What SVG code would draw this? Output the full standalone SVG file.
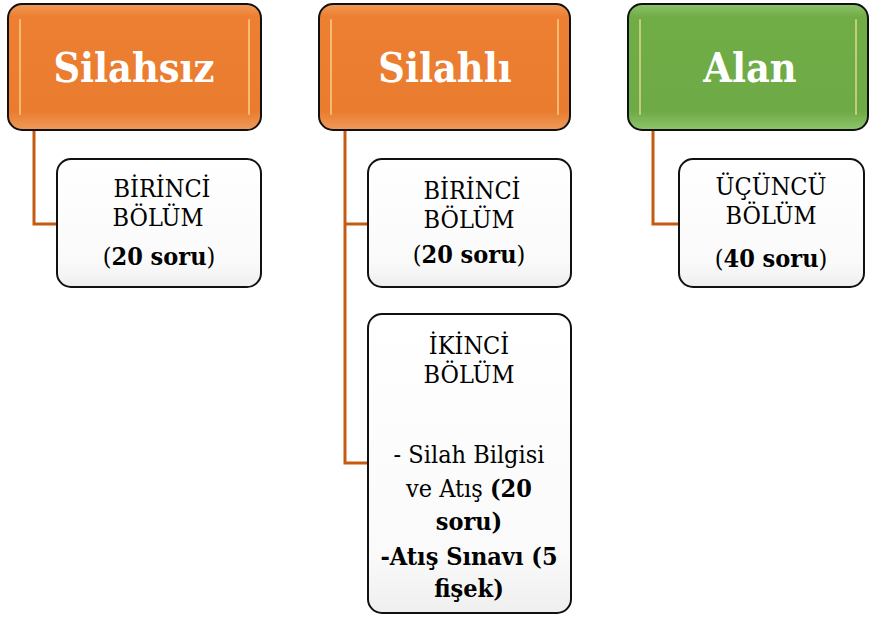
<svg xmlns="http://www.w3.org/2000/svg" width="872" height="617" viewBox="0 0 872 617">
<defs>
<linearGradient id="gOr" x1="0" y1="0" x2="0" y2="1">
<stop offset="0" stop-color="#F09A58"/><stop offset="0.1" stop-color="#EC7F31"/><stop offset="0.85" stop-color="#E97C2E"/><stop offset="1" stop-color="#F09A5C"/>
</linearGradient>
<linearGradient id="gGr" x1="0" y1="0" x2="0" y2="1">
<stop offset="0" stop-color="#8EC26A"/><stop offset="0.1" stop-color="#71AD47"/><stop offset="0.85" stop-color="#6EAA45"/><stop offset="1" stop-color="#8EC46C"/>
</linearGradient>
<linearGradient id="gWh" x1="0" y1="0" x2="0" y2="1">
<stop offset="0" stop-color="#FFFFFF"/><stop offset="0.8" stop-color="#FAFAFA"/><stop offset="1" stop-color="#EFEFEF"/>
</linearGradient>
</defs>
<style>
.hdr{stroke:#111;stroke-width:2}
.hl{stroke:#FFE2A0;stroke-width:2;stroke-linecap:round;opacity:0.6}
.child{fill:url(#gWh);stroke:#111;stroke-width:2}
.conn{fill:none;stroke:#C55A11;stroke-width:3}
text{font-family:'DejaVu Serif Condensed','DejaVu Serif',serif}
.ht{font-weight:bold;font-size:41px;fill:#fff;text-anchor:middle}
.ct{font-size:25px;fill:#000;text-anchor:middle}
.b{font-weight:bold}
</style>
<g id="connectors">
<path class="conn" d="M34 130 V224 H57"/>
<path class="conn" d="M345 130 V463 H368"/>
<path class="conn" d="M345 224 H368"/>
<path class="conn" d="M653 130 V224 H679"/>
</g>
<g id="silahsiz">
<rect class="hdr" x="8" y="4" width="253" height="126" rx="14" fill="url(#gOr)"/>
<line class="hl" x1="20" y1="20" x2="20" y2="114"/>
<line class="hl" x1="249" y1="20" x2="249" y2="114"/>
<text class="ht" x="134" y="82">Silahsız</text>
</g>
<g id="silahli">
<rect class="hdr" x="319" y="4" width="251" height="126" rx="14" fill="url(#gOr)"/>
<line class="hl" x1="331" y1="20" x2="331" y2="114"/>
<line class="hl" x1="558" y1="20" x2="558" y2="114"/>
<text class="ht" x="445" y="82">Silahlı</text>
</g>
<g id="alan">
<rect class="hdr" x="628" y="4" width="240" height="126" rx="14" fill="url(#gGr)"/>
<line class="hl" x1="640" y1="20" x2="640" y2="114"/>
<line class="hl" x1="856" y1="20" x2="856" y2="114"/>
<text class="ht" x="750" y="82">Alan</text>
</g>
<g id="silahsiz-birinci">
<rect class="child" x="57" y="159" width="204" height="128" rx="14"/>
<text class="ct" x="162" y="197">BİRİNCİ</text>
<text class="ct" x="158" y="226">BÖLÜM</text>
<text class="ct" x="159" y="265">(<tspan class="b">20 soru</tspan>)</text>
</g>
<g id="silahli-birinci">
<rect class="child" x="368" y="159" width="203" height="128" rx="14"/>
<text class="ct" x="472" y="199">BİRİNCİ</text>
<text class="ct" x="469" y="228">BÖLÜM</text>
<text class="ct" x="469" y="263">(<tspan class="b">20 soru</tspan>)</text>
</g>
<g id="silahli-ikinci">
<rect class="child" x="368" y="314" width="203" height="299" rx="14"/>
<text class="ct" x="469" y="354">İKİNCİ</text>
<text class="ct" x="469" y="383">BÖLÜM</text>
<text class="ct" x="469" y="463">- Silah Bilgisi</text>
<text class="ct" x="469" y="497">ve Atış <tspan class="b">(20</tspan></text>
<text class="ct b" x="469" y="530">soru)</text>
<text class="ct b" x="469" y="565">-Atış Sınavı (5</text>
<text class="ct b" x="469" y="597">fişek)</text>
</g>
<g id="alan-ucuncu">
<rect class="child" x="679" y="159" width="185" height="128" rx="14"/>
<text class="ct" x="771" y="195">ÜÇÜNCÜ</text>
<text class="ct" x="771" y="224">BÖLÜM</text>
<text class="ct" x="771" y="267">(<tspan class="b">40 soru</tspan>)</text>
</g>
</svg>
